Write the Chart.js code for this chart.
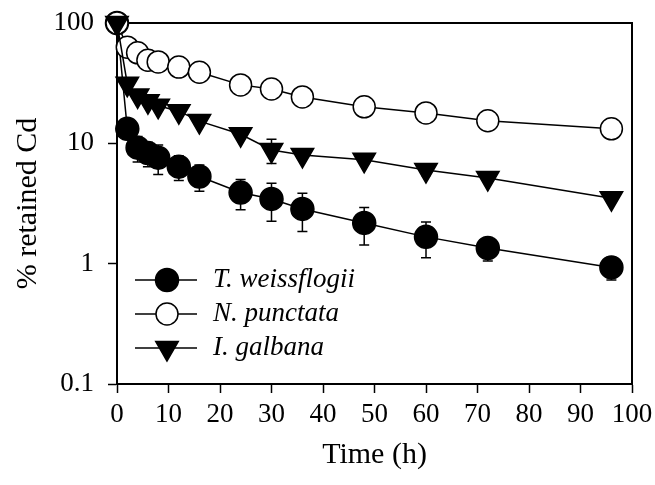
<!DOCTYPE html>
<html>
<head>
<meta charset="utf-8">
<script src="https://cdn.jsdelivr.net/npm/chart.js@4"></script>
<style>
html,body{margin:0;padding:0;background:#fff;}
#wrap{width:655px;height:485px;}
</style>
</head>
<body>
<div id="wrap"><canvas id="c" width="655" height="485"></canvas></div>
<script>
const hours = [0, 2, 4, 6, 8, 12, 16, 24, 30, 36, 48, 60, 72, 96];
const seriesNames = ["T. weissflogii", "N. punctata", "I. galbana"];
const tWeissflogii = [100, 13.2, 9.2, 8.3, 7.6, 6.4, 5.3, 3.9, 3.45, 2.85, 2.18, 1.67, 1.35, 0.93];
const tWeissflogiiErr = [0, 0.8, 2.2, 1.9, 2.1, 1.5, 1.3, 1.1, 1.2, 1.0, 0.75, 0.55, 0.3, 0.2];
const nPunctata = [100, 63, 56.5, 49, 47.5, 43, 39, 30.6, 28.3, 24.3, 20.1, 17.9, 15.4, 13.2];
const nPunctataErr = [0, 0, 0, 0, 0, 0, 0, 0, 0, 0, 2.0, 0, 0, 0];
const iGalbana = [100, 31.2, 25, 22.4, 20.5, 18.5, 15.3, 11.9, 8.8, 8.0, 7.3, 6.0, 5.15, 3.5];
const iGalbanaErr = [0, 0, 0, 0, 0, 0, 0, 0, 2.0, 0, 0, 0.6, 0, 0];
const yTickValues = [0.1, 1, 10, 100];
const xTickValues = [0, 10, 20, 30, 40, 50, 60, 70, 80, 90, 100];
const xTitle = "Time (h)";
const yTitle = "% retained Cd";

const FONT = "'Liberation Serif', 'Times New Roman', serif";
const FS = 27;
const TFS = 30;

function pts(vals){ return hours.map((h,i)=>({x:h, y:vals[i]})); }

const errs = [tWeissflogiiErr, nPunctataErr, iGalbanaErr];

const errorBars = {
  id: 'errorBars',
  beforeDatasetsDraw(chart){
    const ctx = chart.ctx, xs = chart.scales.x, ys = chart.scales.y;
    ctx.save();
    ctx.strokeStyle = '#000'; ctx.lineWidth = 1.5;
    chart.data.datasets.forEach((ds, di)=>{
      const e = errs[di];
      ds.data.forEach((p, i)=>{
        if (!e[i]) return;
        const px = xs.getPixelForValue(p.x);
        const top = ys.getPixelForValue(p.y + e[i]);
        const bot = ys.getPixelForValue(Math.max(p.y - e[i], 0.1001));
        ctx.beginPath();
        ctx.moveTo(px, top); ctx.lineTo(px, bot);
        ctx.moveTo(px-5, top); ctx.lineTo(px+5, top);
        ctx.moveTo(px-5, bot); ctx.lineTo(px+5, bot);
        ctx.stroke();
      });
    });
    ctx.restore();
  }
};

const frame = {
  id: 'frame',
  beforeDatasetsDraw(chart){
    const {ctx, chartArea:a} = chart;
    ctx.save();
    ctx.strokeStyle = '#000'; ctx.lineWidth = 2;
    ctx.beginPath();
    ctx.moveTo(a.left, a.top); ctx.lineTo(a.right, a.top); ctx.lineTo(a.right, a.bottom);
    ctx.stroke();
    ctx.restore();
  }
};

const customLegend = {
  id: 'customLegend',
  afterDatasetsDraw(chart){
    const {ctx, chartArea:a} = chart;
    ctx.save();
    const x0 = a.left + 18, x1 = a.left + 80, mx = a.left + 50, tx = a.left + 96;
    const rows = [a.top + 257, a.top + 291, a.top + 325];
    chart.data.datasets.forEach((ds, i)=>{
      const y = rows[i];
      ctx.strokeStyle = '#000'; ctx.lineWidth = 1.5;
      ctx.beginPath(); ctx.moveTo(x0, y); ctx.lineTo(x1, y); ctx.stroke();
      ctx.fillStyle = ds.pointBackgroundColor; ctx.strokeStyle = '#000'; ctx.lineWidth = 1.5;
      Chart.helpers.drawPoint(ctx, {pointStyle: ds.pointStyle, rotation: ds.pointRotation || 0, radius: ds.pointRadius, borderWidth: 1.5}, mx, y);
      ctx.fillStyle = '#000';
      ctx.font = 'italic ' + FS + 'px ' + FONT;
      ctx.textBaseline = 'middle'; ctx.textAlign = 'left';
      ctx.fillText(ds.label, tx, y);
    });
    ctx.restore();
  }
};

const common = {borderColor:'#000', borderWidth:1.5, pointBorderColor:'#000', pointBorderWidth:1.5, tension:0, clip:false, showLine:true};

new Chart(document.getElementById('c'), {
  type: 'scatter',
  data: {
    datasets: [
      Object.assign({label: seriesNames[0], data: pts(tWeissflogii), pointStyle:'circle', pointRadius:11.5, pointBackgroundColor:'#000', order:3}, common),
      Object.assign({label: seriesNames[1], data: pts(nPunctata), pointStyle:'circle', pointRadius:11, pointBackgroundColor:'#fff', order:2}, common),
      Object.assign({label: seriesNames[2], data: pts(iGalbana), pointStyle:'triangle', pointRotation:180, pointRadius:13, pointBackgroundColor:'#000', order:1}, common)
    ]
  },
  options: {
    responsive: false,
    animation: false,
    events: [],
    layout: {padding: {left:0, right:23, top:23, bottom:0}},
    plugins: {legend:{display:false}, tooltip:{enabled:false}},
    scales: {
      x: {
        type:'linear', min:0, max:100,
        afterBuildTicks(s){ s.ticks = xTickValues.map(v=>({value:v})); },
        afterFit(s){ s.height = 101; s.paddingLeft = 0; s.paddingRight = 0; },
        grid:{drawOnChartArea:false, drawTicks:true, tickLength:9, tickColor:'#000', tickWidth:1.5},
        border:{display:true, color:'#000', width:2},
        ticks:{color:'#000', font:{family:FONT, size:FS}, padding:6, maxRotation:0, autoSkip:false},
        title:{display:true, text:xTitle, color:'#000', font:{family:FONT, size:TFS}, padding:{top:0,bottom:12}}
      },
      y: {
        type:'logarithmic', min:0.1, max:100,
        afterBuildTicks(s){ s.ticks = yTickValues.map(v=>({value:v})); },
        afterFit(s){ s.width = 117; s.paddingTop = 0; s.paddingBottom = 0; },
        grid:{drawOnChartArea:false, drawTicks:true, tickLength:9, tickColor:'#000', tickWidth:1.5},
        border:{display:true, color:'#000', width:2},
        ticks:{color:'#000', font:{family:FONT, size:FS}, padding:14, autoSkip:false, callback:(v)=>String(v)},
        title:{display:true, text:yTitle, color:'#000', font:{family:FONT, size:TFS}, padding:{top:10,bottom:0}}
      }
    }
  },
  plugins: [frame, errorBars, customLegend]
});
</script>
</body>
</html>
